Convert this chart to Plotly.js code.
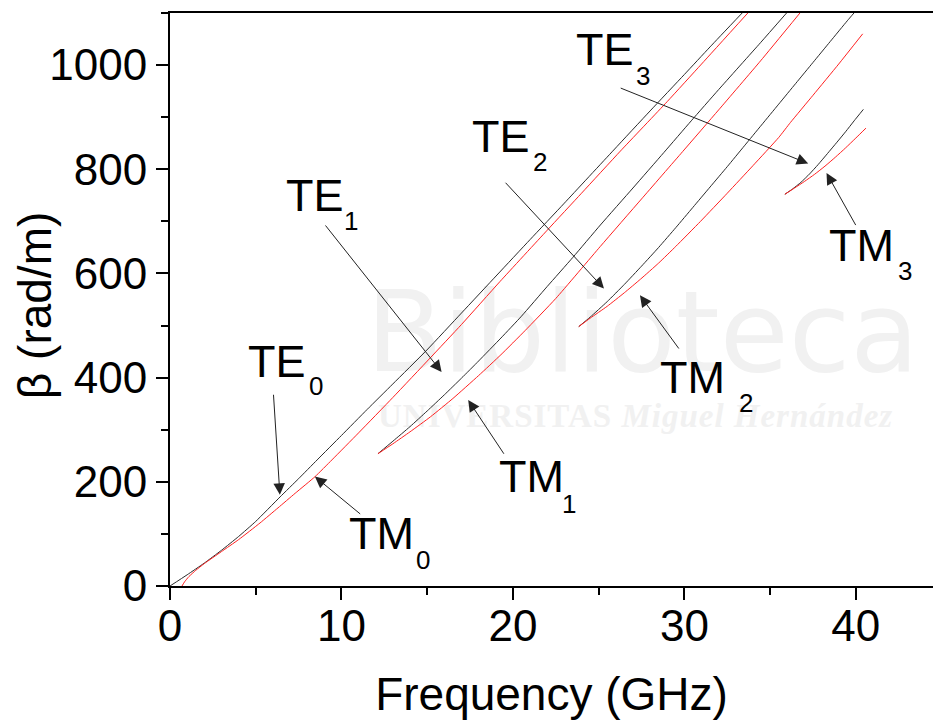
<!DOCTYPE html>
<html>
<head>
<meta charset="utf-8">
<script src="https://cdn.plot.ly/plotly-3.0.1.min.js"></script>
<style>
  html, body { margin: 0; padding: 0; background: #ffffff; }
  #wrap { position: relative; width: 933px; height: 720px; overflow: hidden; }
  #wm { position: absolute; left: 0; top: 0; width: 933px; height: 720px; z-index: 0; }
  #wm .big { position: absolute; left: 366px; top: 276px; font-family: "DejaVu Sans", sans-serif; font-size: 112px; line-height: 1; color: #f1f1f1; white-space: nowrap; }
  #wm .small { position: absolute; left: 378px; top: 400px; font-family: "Liberation Serif", serif; font-weight: bold; font-size: 33px; line-height: 1; color: #f1f1f1; white-space: nowrap; letter-spacing: 1px; }
  #chart { position: absolute; left: 0; top: 0; width: 933px; height: 720px; z-index: 1; }
</style>
</head>
<body>
<div id="wrap">
  <div id="wm"><div class="big">Biblioteca</div><div class="small">UNIVERSITAS <i>Miguel Hernández</i></div></div>
  <div id="chart"></div>
</div>
<script>
// ---- data (frequency in GHz, beta in rad/m) ----
const te0_f = [0, 1, 2, 3, 4, 5, 6.42, 7.5, 8.58, 10, 11.5, 13, 14.98, 17, 19.07, 21, 23, 25.88, 28, 30, 31.5, 33.37];
const te0_b = [0, 21.5, 44, 68.5, 95, 124, 171, 206, 242, 289, 339, 388, 453, 524, 597, 665, 735, 837, 912, 982, 1035, 1100];

const tm0_f = [0.7, 0.85, 1.1, 1.5, 2, 3, 4, 5.25, 6.3, 7.3, 8.46, 9.44, 11, 13, 15.18, 17, 19.26, 22, 24, 26.27, 29, 31, 33.7];
const tm0_b = [0, 8, 18, 30, 43, 66, 89, 121, 150, 178, 210, 242, 294, 362, 438, 502, 585, 683, 754, 835, 930, 1002, 1100];

const te1_f = [12.13, 13, 14, 15, 16, 17, 18, 19.3, 20.5, 22, 23.5, 25.1, 27, 28.8, 30.4, 32, 34.44, 35.96];
const te1_b = [254, 278, 306, 336, 367, 399, 432, 476, 518, 575, 631, 693, 764, 832, 893, 953, 1043, 1100];

const tm1_f = [12.13, 13, 14, 15.2, 16.5, 18, 19.3, 20.7, 22.5, 25.1, 27.5, 29.9, 32, 34.44, 36.74];
const tm1_b = [254, 273, 296, 325, 360, 404, 444, 490, 552, 652, 743, 834, 914, 1008, 1100];

const te2_f = [23.84, 24.5, 25.5, 26.5, 27.5, 28.5, 29.5, 30.5, 31.5, 32.5, 33.5, 34.5, 35.5, 36.5, 37.5, 38.5, 39.5, 39.89];
const te2_b = [498, 516, 546, 579, 614, 650, 688, 727, 766, 805, 845, 885, 925, 965, 1005, 1045, 1085, 1100];

const tm2_f = [23.84, 24.5, 25.5, 26.5, 27.44, 28.5, 29.5, 30.94, 32.5, 34, 35.5, 36.19, 37.5, 39, 40.4];
const tm2_b = [498, 514, 537, 563, 589, 620, 652, 700, 754, 807, 861, 890, 942, 1002, 1060];

const te3_f = [35.86, 36.3, 36.8, 37.3, 37.8, 38.34, 38.9, 39.4, 39.9, 40.44];
const te3_b = [752, 762, 775, 791, 809, 830, 852, 872, 893, 915];

const tm3_f = [35.86, 36.4, 37, 37.6, 38.2, 38.8, 39.4, 40, 40.59];
const tm3_b = [752, 763.5, 776.5, 790.5, 806, 823, 841, 860, 879];

const modeNames = ['TE', 'TM', 'TE', 'TM', 'TE', 'TM', 'TE', 'TM'];
const modeOrders = ['0', '0', '1', '1', '2', '2', '3', '3'];
const xTicks = [0, 10, 20, 30, 40];
const yTicks = [0, 200, 400, 600, 800, 1000];

// ---- traces ----
const BLACK = '#2b2b2b', RED = '#ff2020';
function curve(f, b, color, name) {
  return { x: f, y: b, type: 'scatter', mode: 'lines', name: name,
           line: { color: color, width: 1, shape: 'spline', smoothing: 0.5 },
           hoverinfo: 'skip', showlegend: false };
}
const traces = [
  curve(te0_f, te0_b, BLACK, 'TE0'), curve(tm0_f, tm0_b, RED, 'TM0'),
  curve(te1_f, te1_b, BLACK, 'TE1'), curve(tm1_f, tm1_b, RED, 'TM1'),
  curve(te2_f, te2_b, BLACK, 'TE2'), curve(tm2_f, tm2_b, RED, 'TM2'),
  curve(te3_f, te3_b, BLACK, 'TE3'), curve(tm3_f, tm3_b, RED, 'TM3')
];

// ---- label placement (layout, in axis units) ----
const labelPos = [
  { m: [6.24, 431], s: [8.51, 383], tail: [6.03, 370], tip: [6.41, 175] },
  { m: [12.34, 101], s: [14.75, 50], tail: [11.18, 136], tip: [8.45, 210] },
  { m: [8.43, 750], s: [10.58, 700], tail: [9.0, 695], tip: [15.84, 411] },
  { m: [21.08, 210], s: [23.27, 157], tail: [19.53, 251], tip: [17.39, 357] },
  { m: [30.45, 401], s: [33.6, 352], tail: [29.74, 453], tip: [27.41, 558] },
  { m: [19.33, 863], s: [21.55, 814], tail: [19.49, 777], tip: [25.31, 571] },
  { m: [25.39, 1030], s: [27.61, 979], tail: [26.2, 957], tip: [37.22, 811] },
  { m: [40.32, 654], s: [42.86, 605], tail: [40.04, 690], tip: [38.29, 793] }
];
// order of labelPos: TE0, TM0, TE1, TM1, TM2, TE2, TE3, TM3
const labelMode = [0, 1, 2, 3, 5, 4, 6, 7];

const FONT = '"Liberation Sans", Arial, sans-serif';
const annotations = [];
labelPos.forEach((p, k) => {
  const i = labelMode[k];
  annotations.push({ x: p.m[0], y: p.m[1], xref: 'x', yref: 'y', text: modeNames[i],
    showarrow: false, xanchor: 'center', yanchor: 'middle',
    font: { family: FONT, size: 45, color: '#000' } });
  annotations.push({ x: p.s[0], y: p.s[1], xref: 'x', yref: 'y', text: modeOrders[i],
    showarrow: false, xanchor: 'center', yanchor: 'middle',
    font: { family: FONT, size: 26, color: '#000' } });
  annotations.push({ x: p.tip[0], y: p.tip[1], xref: 'x', yref: 'y',
    ax: p.tail[0], ay: p.tail[1], axref: 'x', ayref: 'y', text: '',
    showarrow: true, arrowhead: 2, arrowsize: 2.3, arrowwidth: 1, arrowcolor: '#222',
    standoff: 0, startstandoff: 0 });
});
// y-axis title (placed as a rotated annotation so it can sit close to the tick labels)
annotations.push({ xref: 'paper', yref: 'paper', x: -0.177, y: 0.49, text: 'β (rad/m)',
  textangle: -90, showarrow: false, xanchor: 'center', yanchor: 'middle',
  font: { family: FONT, size: 46, color: '#000' } });

const layout = {
  width: 933, height: 720,
  margin: { l: 170, r: 0, t: 13, b: 134 },
  paper_bgcolor: 'rgba(0,0,0,0)', plot_bgcolor: 'rgba(0,0,0,0)',
  showlegend: false,
  font: { family: FONT, color: '#000' },
  xaxis: {
    range: [0, 44.5], tickvals: xTicks, ticktext: xTicks.map(String),
    ticks: 'outside', ticklen: 12, tickwidth: 2, tickcolor: '#000',
    minor: { dtick: 5, tick0: 0, ticks: 'outside', ticklen: 7, tickwidth: 2, tickcolor: '#000', showgrid: false },
    showline: true, linewidth: 2, linecolor: '#000', mirror: true,
    showgrid: false, zeroline: false,
    tickfont: { family: FONT, size: 44, color: '#000' },
    ticklabelstandoff: -12,
    title: { text: 'Frequency (GHz)', font: { family: FONT, size: 46, color: '#000' }, standoff: 48 },
    automargin: false
  },
  yaxis: {
    range: [0, 1100], tickvals: yTicks, ticktext: yTicks.map(String),
    ticks: 'outside', ticklen: 12, tickwidth: 2, tickcolor: '#000',
    minor: { dtick: 100, tick0: 0, ticks: 'outside', ticklen: 7, tickwidth: 2, tickcolor: '#000', showgrid: false },
    showline: true, linewidth: 2, linecolor: '#000', mirror: false,
    showgrid: false, zeroline: false,
    tickfont: { family: FONT, size: 44, color: '#000' },
    automargin: false
  },
  annotations: annotations
};

Plotly.newPlot('chart', traces, layout, { staticPlot: true, displayModeBar: false });
</script>
</body>
</html>
